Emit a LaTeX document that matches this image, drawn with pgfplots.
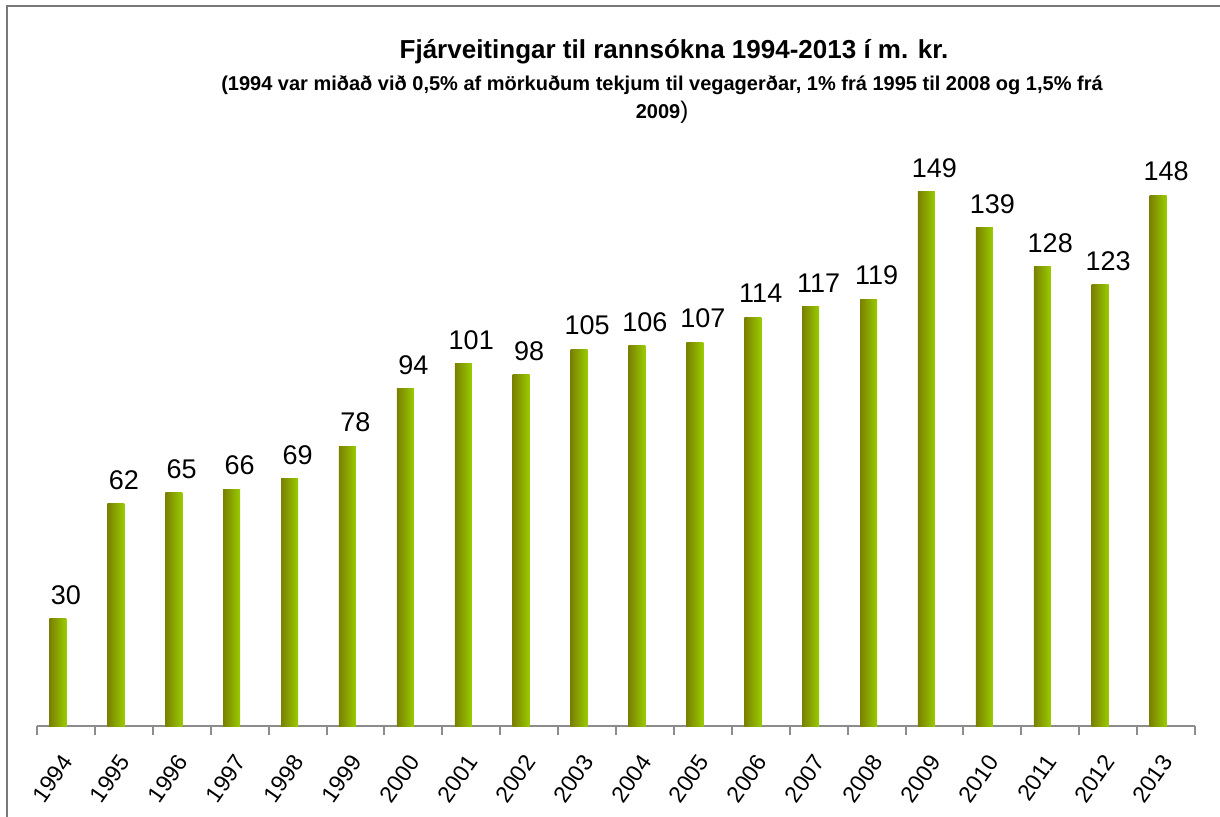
\documentclass[border=0pt]{standalone}
\usepackage{pgfplots}
\pgfplotsset{compat=1.18}
\usepackage{fontspec}
\setmainfont{Liberation Sans}
\definecolor{barDark}{RGB}{122,128,0}
\definecolor{barLight}{RGB}{153,204,0}
\definecolor{frameGray}{RGB}{120,120,120}
\definecolor{axisGray}{RGB}{140,140,140}
\pgfplotsset{
  gbar/.style={ybar, bar width=8.5pt, bar shift=-4pt, draw=none,
    left color=barDark, right color=barLight, forget plot},
}
\begin{document}
\begin{tikzpicture}
  \useasboundingbox (0pt,0pt) rectangle (610pt,408pt);
  % outer chart frame
  \draw[frameGray, line width=0.8pt] (3.5pt,-1pt) -- (3.5pt,405pt) -- (611pt,405pt);
  % titles
  \node[font=\bfseries\fontsize{13}{15}\selectfont] at (337pt,382pt)
    {Fjárveitingar til rannsókna 1994-2013 í m. kr.};
  \node[font=\bfseries\fontsize{10}{14}\selectfont, align=center] at (331pt,358pt)
    {(1994 var miðað við 0,5\% af mörkuðum tekjum til vegagerðar, 1\% frá 1995 til 2008 og 1,5\% frá\\
     2009{\mdseries\fontsize{12}{14}\selectfont)}};
  \begin{axis}[
      scale only axis,
      width=579pt, height=287pt,
      at={(18.5pt,45pt)}, anchor=south west,
      xmin=-0.5, xmax=19.5,
      ymin=0, ymax=160,
      axis y line=none,
      axis x line*=bottom,
      x axis line style={-, draw=axisGray, line width=1pt},
      xtick={0,...,19},
      xticklabels={1994,1995,1996,1997,1998,1999,2000,2001,2002,2003,2004,2005,2006,2007,2008,2009,2010,2011,2012,2013},
      major tick length=0pt,
      minor xtick={-0.5,0.5,...,19.5},
      minor tick length=4.5pt,
      tick align=outside,
      minor tick style={draw=axisGray, line width=1pt},
      xticklabel style={xshift=2.5pt, yshift=-13pt, rotate=55, anchor=east, font=\fontsize{11.5}{13}\selectfont},
      /pgf/number format/assume math mode=true,
      nodes near coords,
      point meta=y,
      every node near coord/.append style={font=\fontsize{13.5}{15}\selectfont, black, yshift=3.5pt},
      clip=false,
    ]
    \addplot[gbar] coordinates {(0,30)};
    \addplot[gbar] coordinates {(1,62)};
    \addplot[gbar] coordinates {(2,65)};
    \addplot[gbar] coordinates {(3,66)};
    \addplot[gbar] coordinates {(4,69)};
    \addplot[gbar] coordinates {(5,78)};
    \addplot[gbar] coordinates {(6,94)};
    \addplot[gbar] coordinates {(7,101)};
    \addplot[gbar] coordinates {(8,98)};
    \addplot[gbar] coordinates {(9,105)};
    \addplot[gbar] coordinates {(10,106)};
    \addplot[gbar] coordinates {(11,107)};
    \addplot[gbar] coordinates {(12,114)};
    \addplot[gbar] coordinates {(13,117)};
    \addplot[gbar] coordinates {(14,119)};
    \addplot[gbar] coordinates {(15,149)};
    \addplot[gbar] coordinates {(16,139)};
    \addplot[gbar] coordinates {(17,128)};
    \addplot[gbar] coordinates {(18,123)};
    \addplot[gbar] coordinates {(19,148)};
  \end{axis}
\end{tikzpicture}
\end{document}
